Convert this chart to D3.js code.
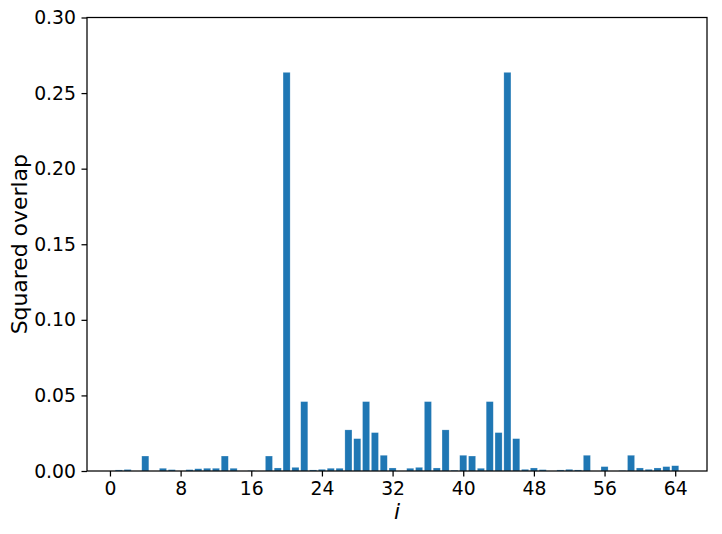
<!DOCTYPE html>
<html>
<head>
<meta charset="utf-8">
<script src="https://cdn.jsdelivr.net/npm/d3@7"></script>
<style>
  body { margin: 0; background: #fff; }
  svg { display: block; }
  text { font-family: "DejaVu Sans", sans-serif; }
</style>
</head>
<body>
<svg id="chart" width="722" height="534"></svg>
<script>
const indices = d3.range(1, 65);
const values = [
  0.0007, 0.0010, 0.0000, 0.0099, 0.0000, 0.0018, 0.0009, 0.0000, 0.0009, 0.0015,
  0.0018, 0.0018, 0.0099, 0.0018, 0.0000, 0.0003, 0.0000, 0.0099, 0.0020, 0.2637,
  0.0024, 0.0459, 0.0007, 0.0011, 0.0018, 0.0018, 0.0272, 0.0214, 0.0459, 0.0254,
  0.0104, 0.0020, 0.0000, 0.0018, 0.0024, 0.0459, 0.0020, 0.0272, 0.0005, 0.0104,
  0.0099, 0.0018, 0.0459, 0.0254, 0.2637, 0.0214, 0.0011, 0.0020, 0.0009, 0.0000,
  0.0007, 0.0011, 0.0007, 0.0104, 0.0000, 0.0029, 0.0000, 0.0003, 0.0104, 0.0020,
  0.0011, 0.0020, 0.0029, 0.0035
];
const xTicks = [0, 8, 16, 24, 32, 40, 48, 56, 64];
const yTicks = [0, 0.05, 0.10, 0.15, 0.20, 0.25, 0.30];

const svg = d3.select("#chart");
const mLeft = 87, mRight = 707, mTop = 17.5, mBottom = 471;
const barW = 0.8;
const x = d3.scaleLinear().domain([-2.6, 67.6]).range([mLeft, mRight]);
const y = d3.scaleLinear().domain([0, 0.30]).range([mBottom, mTop]);

const data = indices.map((d, k) => ({i: d, v: values[k]}));

svg.append("g").selectAll("rect").data(data).join("rect")
  .attr("x", d => x(d.i - barW / 2))
  .attr("width", d => x(d.i + barW / 2) - x(d.i - barW / 2))
  .attr("y", d => y(d.v))
  .attr("height", d => y(0) - y(d.v))
  .attr("fill", "#1f77b4")
  .attr("stroke", "#ffffff")
  .attr("stroke-opacity", 0.35)
  .attr("stroke-width", 0.6);

const xAxis = d3.axisBottom(x).tickValues(xTicks).tickFormat(d3.format("d")).tickSize(5.5).tickPadding(5.5);
const yAxis = d3.axisLeft(y).tickValues(yTicks).tickFormat(d3.format(".2f")).tickSize(5.5).tickPadding(5.5);

const gx = svg.append("g").attr("transform", `translate(0,${mBottom})`).call(xAxis);
const gy = svg.append("g").attr("transform", `translate(${mLeft},0)`).call(yAxis);
[gx, gy].forEach(g => {
  g.select(".domain").remove();
  g.selectAll(".tick line").attr("stroke", "#000").attr("stroke-width", 1.25);
  g.selectAll(".tick text").attr("fill", "#000").style("font-size", "18.8px").style("font-family", "DejaVu Sans, sans-serif");
});

svg.append("rect")
  .attr("x", mLeft).attr("y", mTop)
  .attr("width", mRight - mLeft).attr("height", mBottom - mTop)
  .attr("fill", "none").attr("stroke", "#000").attr("stroke-width", 1.25);

svg.append("text")
  .attr("x", (mLeft + mRight) / 2).attr("y", 519)
  .attr("text-anchor", "middle")
  .style("font-size", "21.9px").style("font-style", "italic")
  .text("i");

svg.append("text")
  .attr("transform", `translate(27,${(mTop + mBottom) / 2}) rotate(-90)`)
  .attr("text-anchor", "middle")
  .style("font-size", "21.9px")
  .text("Squared overlap");
</script>
</body>
</html>
